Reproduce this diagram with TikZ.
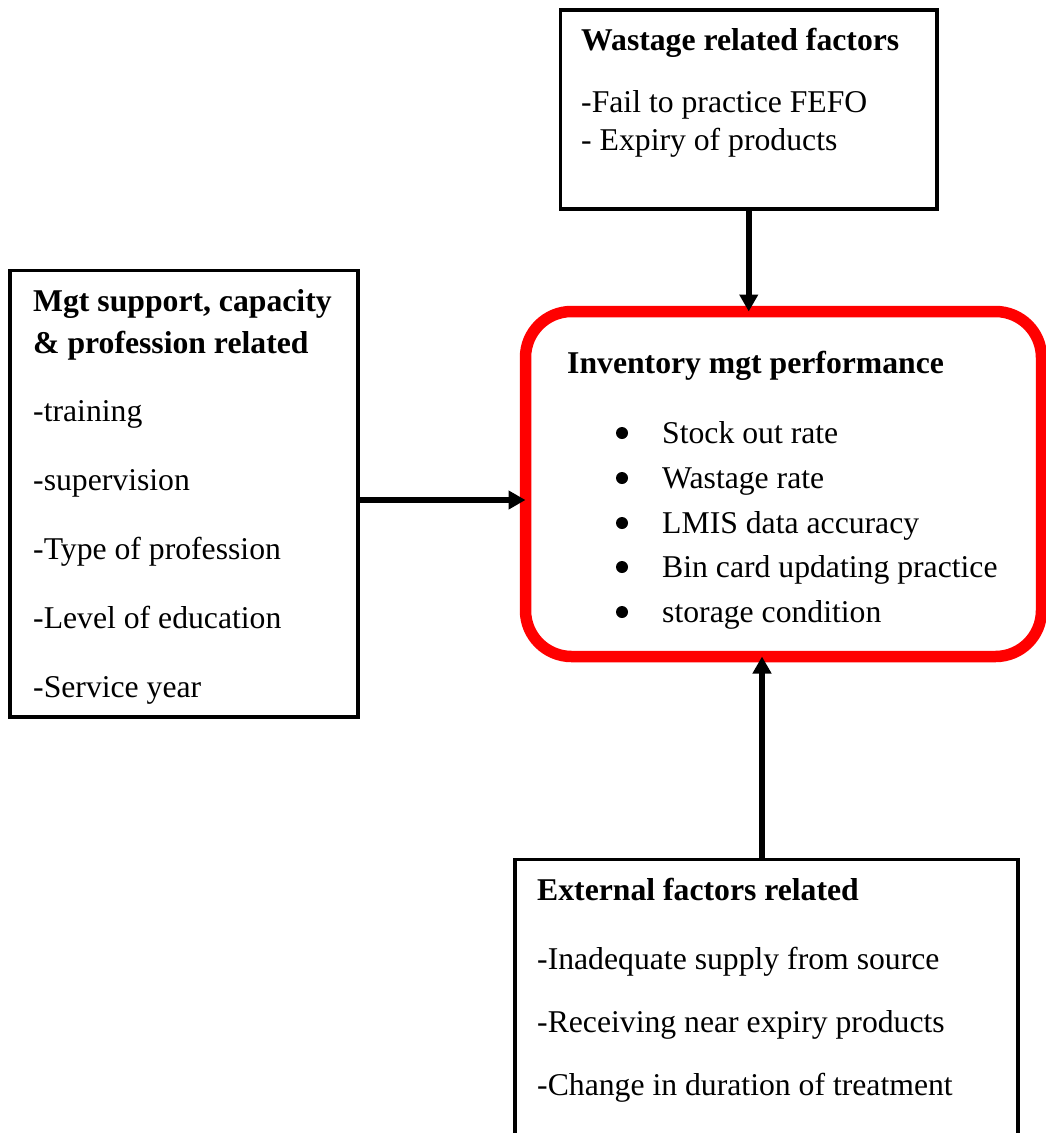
\documentclass[tikz,border=0pt]{standalone}
\usepackage{fontspec}
\setmainfont{Liberation Serif}
\usetikzlibrary{arrows.meta}
\definecolor{boxred}{RGB}{255,0,0}
\begin{document}
\begin{tikzpicture}[x=1pt,y=-1pt,
  factorbox/.style={draw=black,line width=3.8pt,inner sep=0pt,outer sep=0pt,fill=white},
  perfbox/.style={draw=boxred,line width=11.5pt,rounded corners=46pt,inner sep=0pt,outer sep=0pt},
  arr/.style={line width=5.5pt,-{Triangle[length=17pt,width=18pt]}},
  txt/.style={anchor=base west,inner sep=0pt,font=\fontsize{31.7}{38}\selectfont},
  head/.style={txt,font=\fontsize{31.7}{38}\selectfont\bfseries},
  bul/.style={circle,fill=black,inner sep=0pt,minimum size=12pt}]
\useasboundingbox (0,0) rectangle (1046,1133);
\fill[white] (0,0) rectangle (1046,1133);
\clip (0,0) rectangle (1046,1133);

% boxes
\node[factorbox,minimum width=376.5pt,minimum height=198.7pt] (waste) at (748.75,109.35) {};
\node[factorbox,minimum width=348pt,minimum height=446.5pt] (mgt) at (184,493.75) {};
\node[perfbox,minimum width=516pt,minimum height=345pt] (perf) at (783.5,484) {};
\node[factorbox,minimum width=503pt,minimum height=310pt] (ext) at (766.5,1014.5) {};

% top box text
\node[head] (w0) at (581,50) {Wastage related factors};
\node[txt] (w1) at (581,112) {-Fail to practice FEFO};
\node[txt] (w2) at (581,150) {- Expiry of products};

% left box text
\node[head] (m0) at (33,311.5) {Mgt support, capacity};
\node[head] (m1) at (33,353) {\& profession related};
\node[txt] (m2) at (33,421) {-training};
\node[txt] (m3) at (33,490) {-supervision};
\node[txt] (m4) at (33,559) {-Type of profession};
\node[txt] (m5) at (33,628) {-Level of education};
\node[txt] (m6) at (33,697) {-Service year};

% performance box text
\node[head] (p0) at (567,373) {Inventory mgt performance};
\node[bul] (b1) at (622,433) {};
\node[txt] (p1) at (662,443) {Stock out rate};
\node[bul] (b2) at (622,478) {};
\node[txt] (p2) at (662,488) {Wastage rate};
\node[bul] (b3) at (622,523) {};
\node[txt] (p3) at (662,533) {LMIS data accuracy};
\node[bul] (b4) at (622,567) {};
\node[txt] (p4) at (662,577) {Bin card updating practice};
\node[bul] (b5) at (622,612) {};
\node[txt] (p5) at (662,622) {storage condition};

% bottom box text
\node[head] (e0) at (537,900) {External factors related};
\node[txt] (e1) at (537,969) {-Inadequate supply from source};
\node[txt] (e2) at (537,1032) {-Receiving near expiry products};
\node[txt] (e3) at (537,1095) {-Change in duration of treatment};

% connectors
\coordinate (aL) at (0,500);
\coordinate (aB) at (762,0);
\draw[arr] (waste.south) -- (waste.south |- perf.north);
\draw[arr] (mgt.east |- aL) -- (perf.west |- aL);
\draw[arr] (ext.north -| aB) -- (perf.south -| aB);
\end{tikzpicture}
\end{document}
